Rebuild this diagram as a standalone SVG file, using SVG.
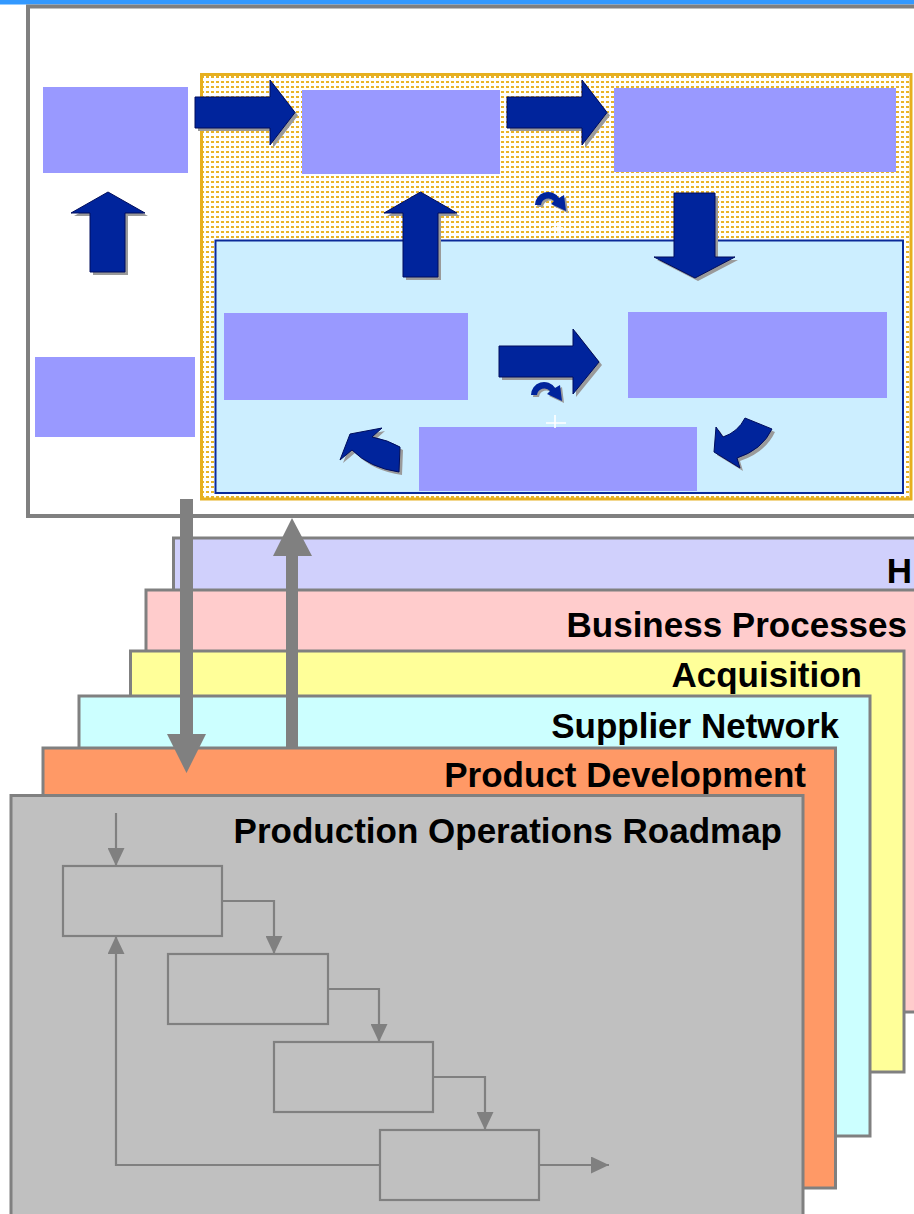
<svg xmlns="http://www.w3.org/2000/svg" xmlns:xlink="http://www.w3.org/1999/xlink" width="914" height="1214" viewBox="0 0 914 1214">
<style>
.proc{fill:#9999ff;stroke:none}
.blk{fill:#00249c;stroke:#000d5c;stroke-width:1}
.shd{fill:#9a9a9a;stroke:none}
.panel{stroke:#808080;stroke-width:3}
.lbl{font-family:"Liberation Sans",Arial,sans-serif;font-weight:bold;font-size:35px;fill:#000;text-anchor:end}
.fbox{fill:none;stroke:#808080;stroke-width:2.2}
.fl{fill:none;stroke:#808080;stroke-width:2.2}
.gray{fill:#808080;stroke:none}
.wx{stroke:#ffffff;stroke-width:1.6;fill:none}
</style>
<defs>
<pattern id="dots" x="0" y="0" width="5" height="5" patternUnits="userSpaceOnUse">
<rect width="5" height="5" fill="#ffffff"/>
<rect x="1" y="1" width="3" height="2" fill="#e8b428"/>
</pattern>
<marker id="ah" viewBox="0 0 18 17" markerWidth="18" markerHeight="17" refX="18" refY="8.5" orient="auto" markerUnits="userSpaceOnUse">
<path d="M0,0 L18,8.5 L0,17 Z" fill="#808080"/>
</marker>
<polygon id="aR1" points="195,97 270,97 270,80 295,112.5 270,145 270,128 195,128"/>
<polygon id="aR2" points="507,97 582,97 582,80 607,112.5 582,145 582,128 507,128"/>
<polygon id="aR3" points="499,346 573,346 573,329 599,362 573,394 573,377 499,377"/>
<polygon id="aU1" points="108,192 145,213 125,213 125,272 90,272 90,213 71,213"/>
<polygon id="aU2" points="420.5,192 457,213 438,213 438,277 403,277 403,213 384,213"/>
<polygon id="aD1" points="674,193 715,193 715,257 735,257 695,278 654,257 674,257"/>
<path id="cL" d="M350,434 L382,428 L372,437 Q388,440 400,447 L399,472 Q370,468 352,450 L340,460 Z"/>
<path id="cR" d="M745,418 L772,429 Q762,450 737,458 L740,468 L714,452 L716,427 L723,437 Q738,432 745,418 Z"/>
<path id="sm" d="M537,206 A13,13 0 0 1 561,199 L566,196 L568,212 L553,205 L556,202 A7.5,7.5 0 0 0 543,206 Z"/>
</defs>

<rect x="0" y="0" width="914" height="1214" fill="#ffffff"/>
<rect x="0" y="0" width="914" height="4.5" fill="#3399ff"/>

<g id="top-frame">
<rect x="28" y="6.5" width="900" height="509.5" fill="#ffffff" stroke="#808080" stroke-width="4"/>
</g>
<g id="core-area">
<rect x="201.5" y="74.5" width="709.5" height="424.5" fill="url(#dots)" stroke="#e6b020" stroke-width="3"/>
</g>
<g id="inner-loop">
<rect x="215.5" y="240.5" width="687.5" height="252.5" fill="#cceeff" stroke="#0a2a99" stroke-width="2"/>
</g>

<g id="node-a"><rect class="proc" x="43" y="87" width="145" height="86"/></g>
<g id="node-b"><rect class="proc" x="302" y="90" width="198" height="84"/></g>
<g id="node-c"><rect class="proc" x="614" y="88" width="282" height="84"/></g>
<g id="node-d"><rect class="proc" x="35" y="357" width="160" height="80"/></g>
<g id="node-e"><rect class="proc" x="224" y="313" width="244" height="87"/></g>
<g id="node-f"><rect class="proc" x="628" y="312" width="259" height="86"/></g>
<g id="node-g"><rect class="proc" x="419" y="427" width="278" height="64"/></g>

<g id="block-arrows">
<use xlink:href="#aR1" class="shd" transform="translate(3,3)"/><use xlink:href="#aR1" class="blk"/>
<use xlink:href="#aR2" class="shd" transform="translate(3,3)"/><use xlink:href="#aR2" class="blk"/>
<use xlink:href="#aR3" class="shd" transform="translate(3,3)"/><use xlink:href="#aR3" class="blk"/>
<use xlink:href="#aU1" class="shd" transform="translate(3,3)"/><use xlink:href="#aU1" class="blk"/>
<use xlink:href="#aU2" class="shd" transform="translate(3,3)"/><use xlink:href="#aU2" class="blk"/>
<use xlink:href="#aD1" class="shd" transform="translate(3,3)"/><use xlink:href="#aD1" class="blk"/>
<use xlink:href="#cL" class="shd" transform="translate(3,3)"/><use xlink:href="#cL" class="blk"/>
<use xlink:href="#cR" class="shd" transform="translate(3,3)"/><use xlink:href="#cR" class="blk"/>
<g transform="translate(-2,-1)">
<use xlink:href="#sm" class="shd" transform="translate(2,2)"/><use xlink:href="#sm" fill="#00249c"/>
</g>
<g transform="translate(-6,189)">
<use xlink:href="#sm" class="shd" transform="translate(2,2)"/><use xlink:href="#sm" fill="#00249c"/>
</g>
<path class="wx" d="M558,222 V234 M552,228 H563"/>
<path class="wx" d="M555,415 V428 M546,423 H566"/>
</g>

<g id="panel-h">
<rect class="panel" x="173.5" y="538" width="760" height="460" fill="#d0d0fc"/>
<text class="lbl" x="912" y="583">H</text>
</g>
<g id="panel-business">
<rect class="panel" x="146" y="590" width="790" height="422" fill="#ffcccc"/>
<text class="lbl" x="907" y="637">Business Processes</text>
</g>
<g id="panel-acquisition">
<rect class="panel" x="130.5" y="651" width="773.5" height="421" fill="#ffff99"/>
<text class="lbl" x="862" y="687">Acquisition</text>
</g>
<g id="panel-supplier">
<rect class="panel" x="79" y="696" width="791" height="440" fill="#ccffff"/>
<text class="lbl" x="839" y="738">Supplier Network</text>
</g>
<g id="panel-product">
<rect class="panel" x="43" y="748" width="792.5" height="440" fill="#ff9966"/>
<text class="lbl" x="806" y="787">Product Development</text>
</g>
<g id="panel-production">
<rect class="panel" x="11" y="795.5" width="792" height="440" fill="#c0c0c0"/>
<text class="lbl" x="782" y="843">Production Operations Roadmap</text>
</g>

<g id="gray-arrows">
<polygon class="gray" points="180,499 193,499 193,734 206,734 186.5,773 167,734 180,734"/>
<polygon class="gray" points="292,518 312,556 298,556 298,747 286,747 286,556 273,556"/>
</g>

<g id="flow-step-1"><rect class="fbox" x="63" y="866" width="159" height="70"/></g>
<g id="flow-step-2"><rect class="fbox" x="168" y="954" width="160" height="70"/></g>
<g id="flow-step-3"><rect class="fbox" x="274" y="1042" width="159" height="70"/></g>
<g id="flow-step-4"><rect class="fbox" x="380" y="1130" width="159" height="70"/></g>

<g id="flow-connectors">
<path class="fl" d="M116,813 V866" marker-end="url(#ah)"/>
<path class="fl" d="M222,901 H274 V954" marker-end="url(#ah)"/>
<path class="fl" d="M328,989 H379 V1042" marker-end="url(#ah)"/>
<path class="fl" d="M433,1077 H485 V1130" marker-end="url(#ah)"/>
<path class="fl" d="M539,1165 H609" marker-end="url(#ah)"/>
<path class="fl" d="M380,1165 H116 V936" marker-end="url(#ah)"/>
</g>
</svg>
